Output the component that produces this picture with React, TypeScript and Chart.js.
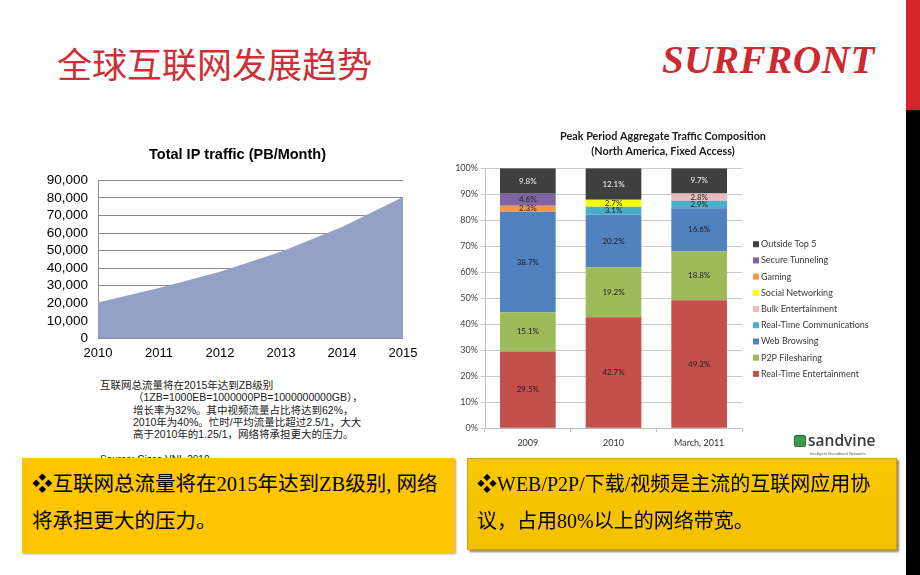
import React, { useEffect, useRef } from "react";
import { Chart, registerables } from "chart.js";
Chart.register(...registerables);

// ---- Left chart data: Total IP traffic (PB/Month)
const years = ["2010", "2011", "2012", "2013", "2014", "2015"];
const ipTraffic = [20396, 28715, 37937, 49302, 63425, 80544];
const ipTickMax = 90000;
const ipTickStep = 10000;

// ---- Right chart data: Peak Period Aggregate Traffic Composition
const periods = ["2009", "2010", "March, 2011"];
const rtEntertainment = [29.5, 42.7, 49.2];
const p2pFilesharing = [15.1, 19.2, 18.8];
const webBrowsing = [38.7, 20.2, 16.6];
const rtCommunications = [0, 3.1, 2.9];
const bulkEntertainment = [0, 0, 2.8];
const socialNetworking = [0, 2.7, 0];
const gaming = [2.3, 0, 0];
const secureTunneling = [4.6, 0, 0];
const outsideTop5 = [9.8, 12.1, 9.7];
const seriesNames = [
  "Real-Time Entertainment",
  "P2P Filesharing",
  "Web Browsing",
  "Real-Time Communications",
  "Bulk Entertainment",
  "Social Networking",
  "Gaming",
  "Secure Tunneling",
  "Outside Top 5",
];
const seriesValues = [
  rtEntertainment,
  p2pFilesharing,
  webBrowsing,
  rtCommunications,
  bulkEntertainment,
  socialNetworking,
  gaming,
  secureTunneling,
  outsideTop5,
];
const seriesColors = [
  "#C4504C",
  "#9DBB5B",
  "#5082C0",
  "#4BAFC8",
  "#E8BCBC",
  "#FFFF00",
  "#F79646",
  "#8064A2",
  "#3F3F3F",
];
const percentTicks = [0, 10, 20, 30, 40, 50, 60, 70, 80, 90, 100];

const noteLines = [
  "互联网总流量将在2015年达到ZB级别",
  "（1ZB=1000EB=1000000PB=1000000000GB），",
  "增长率为32%。其中视频流量占比将达到62%，",
  "2010年为40%。忙时/平均流量比超过2.5/1，大大",
  "高于2010年的1.25/1，网络将承担更大的压力。",
];

const LATO = "Lato, 'Open Sans', sans-serif";
const ARIAL = "'Liberation Sans', Arial, sans-serif";

const barLabelPlugin = {
  id: "barLabels",
  afterDatasetsDraw(chart: any) {
    const ctx = chart.ctx;
    ctx.save();
    ctx.font = `8px ${LATO}`;
    ctx.textAlign = "center";
    ctx.textBaseline = "middle";
    chart.data.datasets.forEach((ds: any, di: number) => {
      const meta = chart.getDatasetMeta(di);
      meta.data.forEach((el: any, i: number) => {
        const v = ds.data[i];
        if (!v) return;
        ctx.fillStyle = di === seriesNames.length - 1 ? "#F2F2F2" : "#1E1E1E";
        ctx.fillText(v.toFixed(1) + "%", el.x, (el.y + el.base) / 2);
      });
    });
    ctx.restore();
  },
};

const sideLegendPlugin = {
  id: "sideLegend",
  afterDraw(chart: any) {
    const { ctx, chartArea } = chart;
    const ds = chart.data.datasets;
    const n = ds.length;
    const x = chartArea.right + 11;
    const step = 16.2;
    const y0 = chartArea.top + 76;
    ctx.save();
    ctx.font = `9px ${LATO}`;
    ctx.textBaseline = "middle";
    ctx.textAlign = "left";
    for (let k = 0; k < n; k++) {
      const d = ds[n - 1 - k];
      const y = y0 + k * step;
      ctx.fillStyle = d.backgroundColor;
      ctx.fillRect(x, y - 3, 6, 6);
      ctx.fillStyle = "#3A3A3A";
      ctx.fillText(d.label, x + 8, y);
    }
    ctx.restore();
  },
};

// an empty right-side box that reserves room without shrinking the full-width title
const spacerAxis = (w: number) => ({
  type: "linear",
  position: "right",
  display: true,
  grid: { display: false, drawTicks: false },
  border: { display: false },
  ticks: { display: false },
  afterFit: (a: any) => {
    a.width = w;
  },
});

function IpTrafficChart() {
  const ref = useRef<HTMLCanvasElement>(null);
  useEffect(() => {
    const chart = new Chart(ref.current!, {
      type: "line",
      data: {
        labels: years,
        datasets: [
          {
            data: ipTraffic,
            fill: "origin",
            backgroundColor: "#94A0C5",
            borderWidth: 0,
            pointRadius: 0,
            tension: 0,
          },
        ],
      },
      options: {
        animation: false,
        responsive: false,
        layout: { padding: 0 },
        plugins: {
          legend: { display: false },
          tooltip: { enabled: false },
          title: {
            display: true,
            text: "Total IP traffic (PB/Month)",
            color: "#000",
            font: { family: ARIAL, size: 14.5, weight: "bold" },
            padding: { top: 6, bottom: 17 },
          },
        },
        scales: {
          x: {
            offset: false,
            grid: { display: false, drawTicks: false },
            border: { display: false },
            ticks: { color: "#000", font: { family: ARIAL, size: 13 }, padding: 7, maxRotation: 0 },
          },
          y: {
            min: 0,
            max: ipTickMax,
            grid: { color: "#8C8C8C", drawTicks: false },
            border: { display: true, color: "#8C8C8C" },
            ticks: {
              stepSize: ipTickStep,
              autoSkip: false,
              color: "#000",
              font: { family: ARIAL, size: 13.5 },
              padding: 10,
              callback: (v: any) => Number(v).toLocaleString("en-US"),
            },
            afterFit: (a: any) => {
              a.width = 58;
            },
          },
          spacer: spacerAxis(32),
        },
      } as any,
    });
    return () => chart.destroy();
  }, []);
  return <canvas ref={ref} width={395} height={228} style={{ display: "block" }} />;
}

function CompositionChart() {
  const ref = useRef<HTMLCanvasElement>(null);
  useEffect(() => {
    const chart = new Chart(ref.current!, {
      type: "bar",
      data: {
        labels: periods,
        datasets: seriesNames.map((name, i) => ({
          label: name,
          data: seriesValues[i],
          backgroundColor: seriesColors[i],
          borderWidth: 0,
          barPercentage: 0.65,
          categoryPercentage: 1,
        })),
      },
      options: {
        animation: false,
        responsive: false,
        layout: { padding: { left: 0, right: 0, top: 0, bottom: 2 } },
        plugins: {
          tooltip: { enabled: false },
          legend: { display: false },
          title: {
            display: true,
            text: ["Peak Period Aggregate Traffic Composition", "(North America, Fixed Access)"],
            color: "#1A1A1A",
            font: { family: LATO, size: 10.8, weight: "bold", lineHeight: 1.4 },
            padding: { top: 4, bottom: 9 },
          },
        },
        scales: {
          x: {
            stacked: true,
            grid: { display: true, drawOnChartArea: false, tickLength: 4, color: "#BDBDBD" },
            border: { color: "#BDBDBD" },
            ticks: { color: "#333", font: { family: LATO, size: 9 }, padding: 5, maxRotation: 0 },
          },
          y: {
            stacked: true,
            min: 0,
            max: 100,
            afterBuildTicks: (axis: any) => {
              axis.ticks = percentTicks.map((v) => ({ value: v }));
            },
            grid: { color: "#C9C9C9", tickLength: 4 },
            border: { color: "#BDBDBD" },
            ticks: {
              autoSkip: false,
              color: "#444",
              font: { family: LATO, size: 9 },
              padding: 3,
              callback: (v: any) => v + "%",
            },
            afterFit: (a: any) => {
              a.width = 45;
            },
          },
          legendSpace: spacerAxis(144),
        },
      } as any,
      plugins: [barLabelPlugin, sideLegendPlugin],
    });
    return () => chart.destroy();
  }, []);
  return <canvas ref={ref} width={446} height={330} style={{ display: "block" }} />;
}

export default function App() {
  const abs = (l: number, t: number, extra: any = {}) => ({ position: "absolute", left: l, top: t, ...extra });
  return (
    <div style={{ position: "absolute", left: 0, top: 0, width: 920, height: 575, background: "#fff", overflow: "hidden" }}>
      {/* right edge bars */}
      <div style={abs(906, 0, { width: 14, height: 110, background: "#D3242B" })} />
      <div style={abs(906, 110, { width: 14, height: 465, background: "#000" })} />

      {/* title */}
      <div
        style={abs(57, 43, {
          fontFamily: "'Noto Sans CJK SC', sans-serif",
          fontSize: 35,
          lineHeight: "40px",
          color: "#CF2E36",
          whiteSpace: "nowrap",
        })}
      >
        全球互联网发展趋势
      </div>
      <div
        style={abs(662, 40, {
          fontFamily: "'Liberation Serif', 'Times New Roman', serif",
          fontSize: 39,
          lineHeight: "40px",
          fontWeight: "bold",
          fontStyle: "italic",
          color: "#CC2A30",
          whiteSpace: "nowrap",
          letterSpacing: 0.6,
        })}
      >
        SURFRONT
      </div>

      {/* left chart */}
      <div style={abs(40, 140)}>
        <IpTrafficChart />
      </div>

      {/* notes */}
      <div
        style={abs(100, 379, {
          fontFamily: "'Liberation Sans', 'Noto Sans CJK SC', sans-serif",
          fontSize: 10.5,
          lineHeight: "12.3px",
          color: "#1A1A1A",
          whiteSpace: "nowrap",
        })}
      >
        {noteLines.map((l, i) => (
          <div key={i} style={{ paddingLeft: i === 0 ? 0 : 33 }}>
            {l}
          </div>
        ))}
      </div>
      <div
        style={abs(100, 454, {
          fontFamily: "'Liberation Sans', sans-serif",
          fontSize: 10,
          color: "#1A1A1A",
          whiteSpace: "nowrap",
        })}
      >
        Source: Cisco VNI, 2010
      </div>

      {/* right chart */}
      <div style={abs(440, 125)}>
        <CompositionChart />
      </div>

      {/* sandvine logo */}
      <div style={abs(794, 435, { width: 12, height: 12, background: "#3C9A4A", borderRadius: 2, border: "1px solid #2c6b35", boxSizing: "border-box" })} />
      <div
        style={abs(808, 431, {
          fontFamily: "'Open Sans', sans-serif",
          fontWeight: 600,
          fontSize: 15.5,
          lineHeight: "18px",
          color: "#3A3A3A",
          whiteSpace: "nowrap",
        })}
      >
        sandvine
      </div>
      <div
        style={abs(810, 451, {
          fontFamily: "'Liberation Sans', sans-serif",
          fontSize: 4,
          lineHeight: "5px",
          color: "#666",
          whiteSpace: "nowrap",
        })}
      >
        Intelligent Broadband Networks
      </div>

      {/* yellow boxes */}
      <div
        style={abs(22, 458, {
          width: 433,
          height: 95,
          background: "#FFC600",
          boxShadow: "1px 1px 2px rgba(120,100,40,0.6)",
          boxSizing: "border-box",
          padding: "8px 0 0 10px",
          fontFamily: "'Liberation Serif', 'Noto Sans CJK SC', serif",
          fontSize: 20.5,
          lineHeight: "37px",
          color: "#000",
          whiteSpace: "nowrap",
        })}
      >
        <div>❖互联网总流量将在2015年达到ZB级别, 网络</div>
        <div>将承担更大的压力。</div>
      </div>
      <div
        style={abs(467, 458, {
          width: 430,
          height: 92,
          background: "linear-gradient(#F9C800, #F2C000)",
          border: "1px solid #C9A51A",
          boxShadow: "2px 2px 2px rgba(110,95,40,0.75)",
          boxSizing: "border-box",
          padding: "7px 0 0 9px",
          fontFamily: "'Liberation Serif', 'Noto Sans CJK SC', serif",
          fontSize: 20,
          lineHeight: "37px",
          color: "#000",
          whiteSpace: "nowrap",
        })}
      >
        <div>❖WEB/P2P/下载/视频是主流的互联网应用协</div>
        <div>议，占用80%以上的网络带宽。</div>
      </div>
    </div>
  );
}
